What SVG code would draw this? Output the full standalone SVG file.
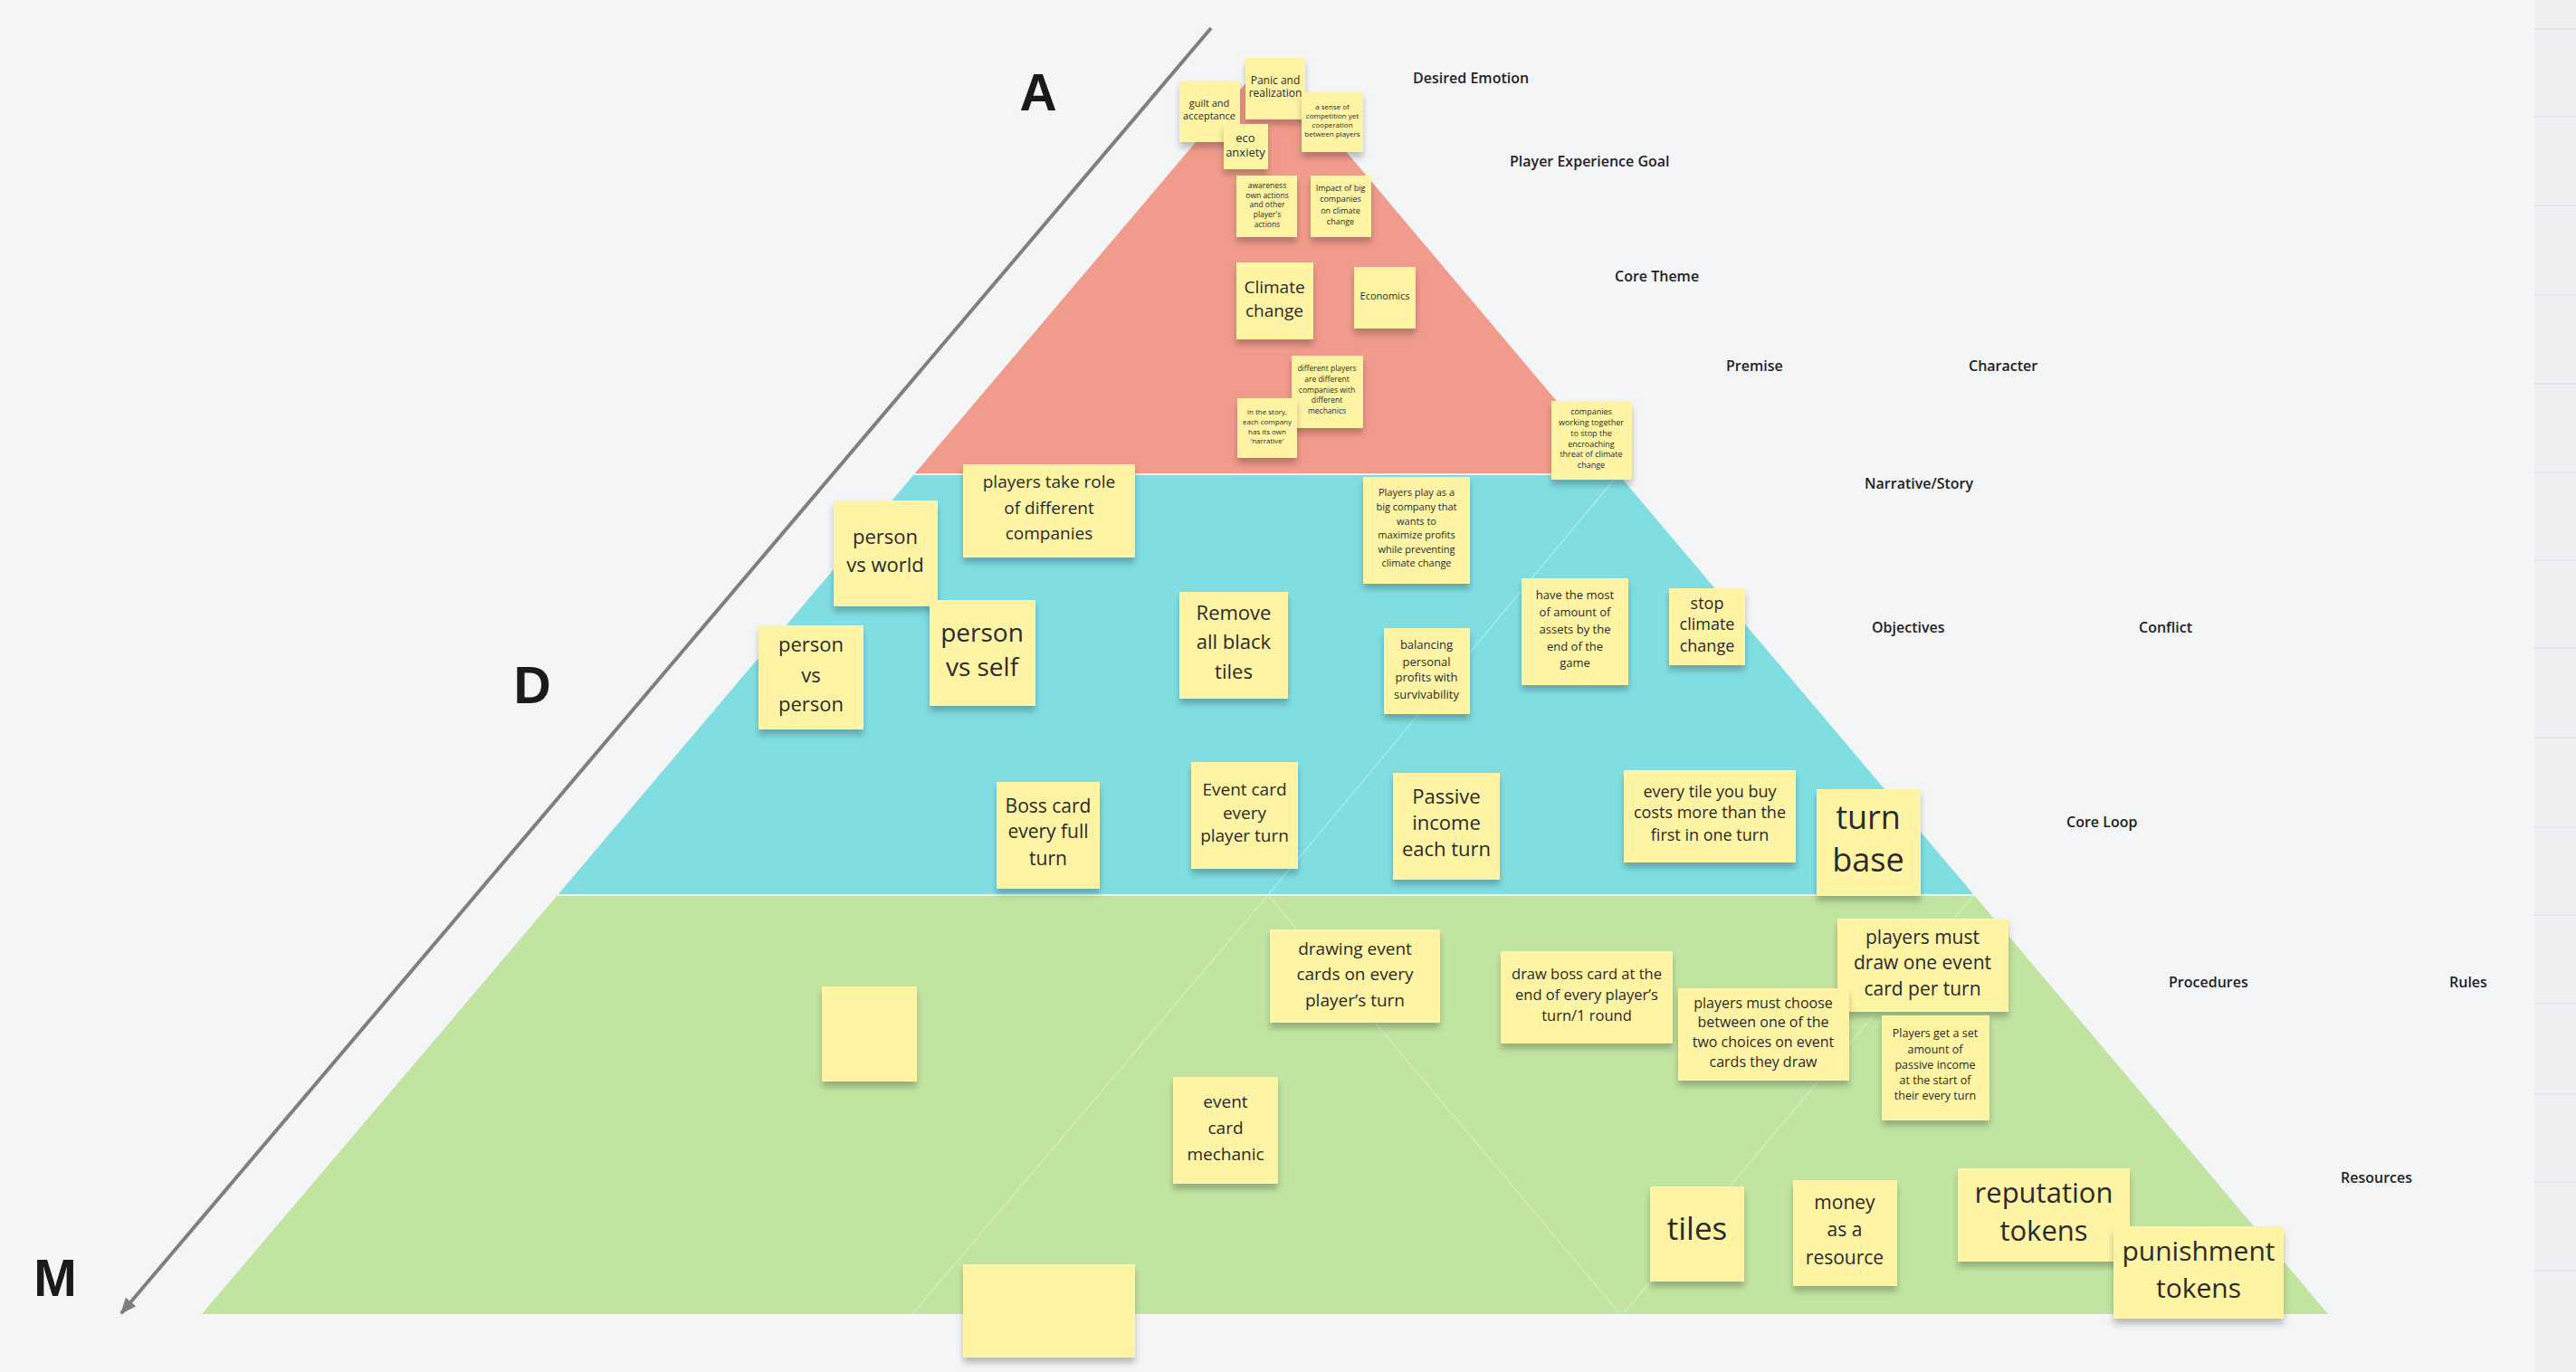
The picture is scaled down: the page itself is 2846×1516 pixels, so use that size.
<svg xmlns="http://www.w3.org/2000/svg" width="2846" height="1516" viewBox="0 0 2846 1516">
<style>
.bg{fill:#F4F5F7}
.s{fill:#FEF4A4;filter:url(#sh)}
.t{font-family:"Open Sans","Liberation Sans",sans-serif;fill:#2a2a2a;text-anchor:middle}
.lbl{font-family:"Open Sans","Liberation Sans",sans-serif;font-weight:600;font-size:16px;fill:#1f1f24}
.big{font-family:"Liberation Sans",Arial,sans-serif;font-weight:bold;font-size:57px;fill:#1a1a1a;text-anchor:middle}
.seam{stroke:#ffffff;stroke-opacity:0.35;stroke-width:1.3;fill:none}
.band{stroke:#ffffff;stroke-opacity:0.75;stroke-width:2}
</style>
<defs>
<filter id="sh" x="-15%" y="-15%" width="130%" height="145%">
<feDropShadow dx="0" dy="6" stdDeviation="3.5" flood-color="#000" flood-opacity="0.24"/>
</filter>
<marker id="ah" viewBox="0 0 12 12" refX="11" refY="6" markerWidth="18" markerHeight="18" markerUnits="userSpaceOnUse" orient="auto">
<path d="M0,1 L12,6 L0,11 Z" fill="#7f7f7f"/>
</marker>
</defs>
<rect class="bg" x="0" y="0" width="2846" height="1516"/>
<g id="side-panel">
<rect x="2800" y="0" width="46" height="1516" fill="#EFF0F2"/>
<g stroke="#E4E5E8" stroke-width="1.5">
<line x1="2800" y1="32" x2="2846" y2="32"/><line x1="2800" y1="129" x2="2846" y2="129"/><line x1="2800" y1="227" x2="2846" y2="227"/><line x1="2800" y1="326" x2="2846" y2="326"/><line x1="2800" y1="424" x2="2846" y2="424"/><line x1="2800" y1="522" x2="2846" y2="522"/><line x1="2800" y1="619" x2="2846" y2="619"/><line x1="2800" y1="716" x2="2846" y2="716"/><line x1="2800" y1="815" x2="2846" y2="815"/><line x1="2800" y1="914" x2="2846" y2="914"/><line x1="2800" y1="1011" x2="2846" y2="1011"/><line x1="2800" y1="1109" x2="2846" y2="1109"/><line x1="2800" y1="1209" x2="2846" y2="1209"/><line x1="2800" y1="1306" x2="2846" y2="1306"/><line x1="2800" y1="1404" x2="2846" y2="1404"/>
</g>
</g>
<g id="pyramid">
<polygon points="1400,64 1788,524 1010,524" fill="#F19B8C"/>
<polygon points="1010,524 1788,524 2181,989 616,989" fill="#80DEE2"/>
<polygon points="616,989 2181,989 2572,1452 223,1452" fill="#C2E4A1"/>
<line class="band" x1="1010" y1="524" x2="1788" y2="524"/>
<line class="band" x1="616" y1="989" x2="2181" y2="989"/>
<polyline class="seam" points="1788,524 1401,989 1008,1452"/>
<polyline class="seam" points="1401,989 1790,1452"/>
<polyline class="seam" points="2181,989 1793,1452"/>
</g>
<g id="connectors">
<line x1="1338" y1="31" x2="134" y2="1451" stroke="#7f7f7f" stroke-width="4" marker-end="url(#ah)"/>
</g>
<g id="axis-labels">
<text class="big" x="1147" y="122">A</text>
<text class="big" x="588" y="777">D</text>
<text class="big" x="61" y="1432">M</text>
</g>
<g id="level-labels">
<text class="lbl" x="1561" y="92">Desired Emotion</text>
<text class="lbl" x="1668" y="184">Player Experience Goal</text>
<text class="lbl" x="1784" y="311">Core Theme</text>
<text class="lbl" x="1907" y="410">Premise</text>
<text class="lbl" x="2175" y="410">Character</text>
<text class="lbl" x="2060" y="540">Narrative/Story</text>
<text class="lbl" x="2068" y="699">Objectives</text>
<text class="lbl" x="2363" y="699">Conflict</text>
<text class="lbl" x="2283" y="914">Core Loop</text>
<text class="lbl" x="2396" y="1091">Procedures</text>
<text class="lbl" x="2706" y="1091">Rules</text>
<text class="lbl" x="2586" y="1307">Resources</text>
</g>
<g id="n-guilt"><rect class="s" x="1303" y="89" width="67" height="68"/><text class="t" font-size="11"><tspan x="1336" y="118">guilt and</tspan><tspan x="1336" y="132">acceptance</tspan></text></g>
<g id="n-panic"><rect class="s" x="1376" y="64" width="66" height="68"/><text class="t" font-size="12"><tspan x="1409" y="93">Panic and</tspan><tspan x="1409" y="107">realization</tspan></text></g>
<g id="n-eco"><rect class="s" x="1352" y="137" width="49" height="50"/><text class="t" font-size="13"><tspan x="1376" y="157">eco</tspan><tspan x="1376" y="173">anxiety</tspan></text></g>
<g id="n-sense"><rect class="s" x="1438" y="102" width="68" height="66"/><text class="t" font-size="8"><tspan x="1472" y="121">a sense of</tspan><tspan x="1472" y="131">competition yet</tspan><tspan x="1472" y="141">cooperation</tspan><tspan x="1472" y="151">between players</tspan></text></g>
<g id="n-awareness"><rect class="s" x="1366" y="194" width="67" height="68"/><text class="t" font-size="8.5"><tspan x="1400" y="208">awareness</tspan><tspan x="1400" y="219">own actions</tspan><tspan x="1400" y="229">and other</tspan><tspan x="1400" y="240">player's</tspan><tspan x="1400" y="251">actions</tspan></text></g>
<g id="n-impact"><rect class="s" x="1448" y="194" width="67" height="68"/><text class="t" font-size="9"><tspan x="1481" y="211">Impact of big</tspan><tspan x="1481" y="223">companies</tspan><tspan x="1481" y="236">on climate</tspan><tspan x="1481" y="248">change</tspan></text></g>
<g id="n-climate"><rect class="s" x="1366" y="290" width="85" height="85"/><text class="t" font-size="19"><tspan x="1408" y="324">Climate</tspan><tspan x="1408" y="350">change</tspan></text></g>
<g id="n-economics"><rect class="s" x="1496" y="295" width="68" height="68"/><text class="t" font-size="11"><tspan x="1530" y="331">Economics</tspan></text></g>
<g id="n-different"><rect class="s" x="1427" y="393" width="79" height="80"/><text class="t" font-size="8.5"><tspan x="1466" y="410">different players</tspan><tspan x="1466" y="422">are different</tspan><tspan x="1466" y="434">companies with</tspan><tspan x="1466" y="445">different</tspan><tspan x="1466" y="457">mechanics</tspan></text></g>
<g id="n-story"><rect class="s" x="1367" y="440" width="66" height="66"/><text class="t" font-size="8"><tspan x="1400" y="458">in the story,</tspan><tspan x="1400" y="469">each company</tspan><tspan x="1400" y="480">has its own</tspan><tspan x="1400" y="490">'narrative'</tspan></text></g>
<g id="n-together"><rect class="s" x="1714" y="443" width="89" height="87"/><text class="t" font-size="9"><tspan x="1758" y="458">companies</tspan><tspan x="1758" y="470">working together</tspan><tspan x="1758" y="482">to stop the</tspan><tspan x="1758" y="494">encroaching</tspan><tspan x="1758" y="505">threat of climate</tspan><tspan x="1758" y="517">change</tspan></text></g>
<g id="n-roles"><rect class="s" x="1064" y="513" width="190" height="103"/><text class="t" font-size="19"><tspan x="1159" y="539">players take role</tspan><tspan x="1159" y="568">of different</tspan><tspan x="1159" y="596">companies</tspan></text></g>
<g id="n-world"><rect class="s" x="921" y="553" width="115" height="117"/><text class="t" font-size="22"><tspan x="978" y="601">person</tspan><tspan x="978" y="632">vs world</tspan></text></g>
<g id="n-pvp"><rect class="s" x="838" y="691" width="116" height="115"/><text class="t" font-size="22"><tspan x="896" y="720">person</tspan><tspan x="896" y="754">vs</tspan><tspan x="896" y="786">person</tspan></text></g>
<g id="n-self"><rect class="s" x="1027" y="663" width="117" height="117"/><text class="t" font-size="28"><tspan x="1085" y="709">person</tspan><tspan x="1085" y="747">vs self</tspan></text></g>
<g id="n-remove"><rect class="s" x="1303" y="654" width="120" height="118"/><text class="t" font-size="22"><tspan x="1363" y="685">Remove</tspan><tspan x="1363" y="717">all black</tspan><tspan x="1363" y="750">tiles</tspan></text></g>
<g id="n-bigco"><rect class="s" x="1506" y="527" width="118" height="118"/><text class="t" font-size="11"><tspan x="1565" y="548">Players play as a</tspan><tspan x="1565" y="564">big company that</tspan><tspan x="1565" y="580">wants to</tspan><tspan x="1565" y="595">maximize profits</tspan><tspan x="1565" y="611">while preventing</tspan><tspan x="1565" y="626">climate change</tspan></text></g>
<g id="n-balancing"><rect class="s" x="1529" y="694" width="95" height="95"/><text class="t" font-size="13"><tspan x="1576" y="717">balancing</tspan><tspan x="1576" y="736">personal</tspan><tspan x="1576" y="753">profits with</tspan><tspan x="1576" y="772">survivability</tspan></text></g>
<g id="n-most"><rect class="s" x="1681" y="639" width="118" height="118"/><text class="t" font-size="13"><tspan x="1740" y="662">have the most</tspan><tspan x="1740" y="681">of amount of</tspan><tspan x="1740" y="700">assets by the</tspan><tspan x="1740" y="719">end of the</tspan><tspan x="1740" y="737">game</tspan></text></g>
<g id="n-stop"><rect class="s" x="1844" y="650" width="84" height="85"/><text class="t" font-size="18"><tspan x="1886" y="673">stop</tspan><tspan x="1886" y="696">climate</tspan><tspan x="1886" y="720">change</tspan></text></g>
<g id="n-boss"><rect class="s" x="1101" y="864" width="114" height="118"/><text class="t" font-size="21"><tspan x="1158" y="898">Boss card</tspan><tspan x="1158" y="926">every full</tspan><tspan x="1158" y="956">turn</tspan></text></g>
<g id="n-eventevery"><rect class="s" x="1316" y="842" width="118" height="118"/><text class="t" font-size="19"><tspan x="1375" y="879">Event card</tspan><tspan x="1375" y="905">every</tspan><tspan x="1375" y="930">player turn</tspan></text></g>
<g id="n-passive"><rect class="s" x="1539" y="854" width="118" height="118"/><text class="t" font-size="22"><tspan x="1598" y="888">Passive</tspan><tspan x="1598" y="917">income</tspan><tspan x="1598" y="946">each turn</tspan></text></g>
<g id="n-everytile"><rect class="s" x="1794" y="851" width="190" height="102"/><text class="t" font-size="18"><tspan x="1889" y="881">every tile you buy</tspan><tspan x="1889" y="904">costs more than the</tspan><tspan x="1889" y="929">first in one turn</tspan></text></g>
<g id="n-turnbase"><rect class="s" x="2007" y="872" width="115" height="118"/><text class="t" font-size="36"><tspan x="2064" y="916">turn</tspan><tspan x="2064" y="963">base</tspan></text></g>
<g id="n-blank1"><rect class="s" x="908" y="1090" width="105" height="105"/></g>
<g id="n-drawing"><rect class="s" x="1403" y="1027" width="188" height="103"/><text class="t" font-size="19"><tspan x="1497" y="1055">drawing event</tspan><tspan x="1497" y="1083">cards on every</tspan><tspan x="1497" y="1112">player’s turn</tspan></text></g>
<g id="n-bossdraw"><rect class="s" x="1658" y="1051" width="190" height="102"/><text class="t" font-size="16.5"><tspan x="1753" y="1082">draw boss card at the</tspan><tspan x="1753" y="1105">end of every player’s</tspan><tspan x="1753" y="1128">turn/1 round</tspan></text></g>
<g id="n-mustdraw"><rect class="s" x="2030" y="1015" width="189" height="103"/><text class="t" font-size="21"><tspan x="2124" y="1043">players must</tspan><tspan x="2124" y="1071">draw one event</tspan><tspan x="2124" y="1100">card per turn</tspan></text></g>
<g id="n-choose"><rect class="s" x="1854" y="1092" width="189" height="102"/><text class="t" font-size="16"><tspan x="1948" y="1114">players must choose</tspan><tspan x="1948" y="1135">between one of the</tspan><tspan x="1948" y="1157">two choices on event</tspan><tspan x="1948" y="1179">cards they draw</tspan></text></g>
<g id="n-setamount"><rect class="s" x="2079" y="1122" width="119" height="116"/><text class="t" font-size="12.5"><tspan x="2138" y="1146">Players get a set</tspan><tspan x="2138" y="1164">amount of</tspan><tspan x="2138" y="1181">passive income</tspan><tspan x="2138" y="1198">at the start of</tspan><tspan x="2138" y="1215">their every turn</tspan></text></g>
<g id="n-eventmech"><rect class="s" x="1296" y="1190" width="116" height="118"/><text class="t" font-size="19"><tspan x="1354" y="1224">event</tspan><tspan x="1354" y="1253">card</tspan><tspan x="1354" y="1282">mechanic</tspan></text></g>
<g id="n-blank2"><rect class="s" x="1064" y="1397" width="190" height="103"/></g>
<g id="n-tiles"><rect class="s" x="1823" y="1311" width="104" height="105"/><text class="t" font-size="35"><tspan x="1875" y="1370">tiles</tspan></text></g>
<g id="n-money"><rect class="s" x="1981" y="1304" width="115" height="117"/><text class="t" font-size="21"><tspan x="2038" y="1336">money</tspan><tspan x="2038" y="1366">as a</tspan><tspan x="2038" y="1397">resource</tspan></text></g>
<g id="n-reputation"><rect class="s" x="2163" y="1291" width="190" height="103"/><text class="t" font-size="31"><tspan x="2258" y="1329">reputation</tspan><tspan x="2258" y="1371">tokens</tspan></text></g>
<g id="n-punishment"><rect class="s" x="2335" y="1355" width="188" height="102"/><text class="t" font-size="30"><tspan x="2429" y="1393">punishment</tspan><tspan x="2429" y="1434">tokens</tspan></text></g>
</svg>
